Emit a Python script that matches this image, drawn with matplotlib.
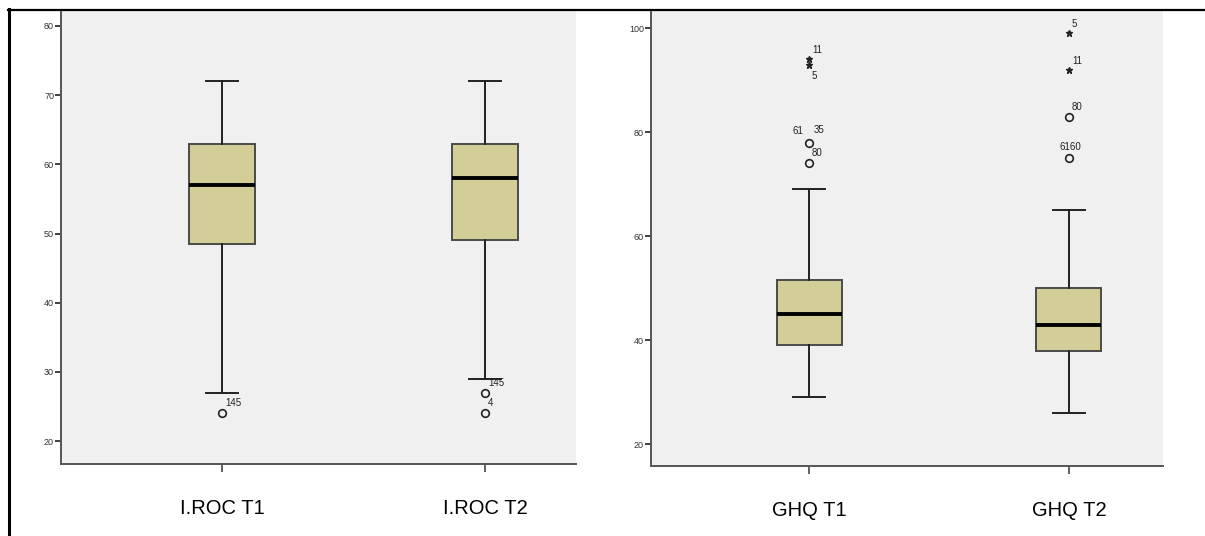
import numpy as np
import matplotlib.pyplot as plt
from matplotlib.lines import Line2D

plt.rcParams['font.family'] = ['Liberation Sans', 'DejaVu Sans']

# I.ROC panel
roc_cats = ["I.ROC T1", "I.ROC T2"]
roc_q1 = [48.5, 49]
roc_med = [57, 58]
roc_q3 = [63, 63]
roc_lo = [27, 29]
roc_hi = [72, 72]
roc_circ = [[24], [27, 24]]
roc_circ_lbl = [["145"], ["145", "4"]]
roc_star = [[], []]
roc_star_lbl = [[], []]
roc_ticks = [20, 30, 40, 50, 60, 70, 80]

# GHQ panel
ghq_cats = ["GHQ T1", "GHQ T2"]
ghq_q1 = [39, 38]
ghq_med = [45, 43]
ghq_q3 = [51.5, 50]
ghq_lo = [29, 26]
ghq_hi = [69, 65]
ghq_circ = [[78, 74], [83, 75]]
ghq_circ_lbl = [["61 35", "80"], ["80", "6160"]]
ghq_star = [[94, 93], [99, 92]]
ghq_star_lbl = [["11", "5"], ["5", "11"]]
ghq_ticks = [20, 40, 60, 80, 100]

W, H = 1205, 536
BOXC = '#d3ce98'
EDGE = '#4a4a4a'
BG = '#f0f0f0'

fig = plt.figure(figsize=(W / 100, H / 100), dpi=100)

# frame lines of the source table
fig.add_artist(Line2D([8 / W, 1], [1 - 9.5 / H, 1 - 9.5 / H], color='black', lw=1.6))
fig.add_artist(Line2D([9 / W, 9 / W], [0, 1 - 9 / H], color='black', lw=2.2))


def panel(rect, cats, q1, med, q3, lo, hi, circ, circ_lbl, star, star_lbl,
          ticks, ylim, xlim):
    x0, x1, ytop, ybot = rect
    ax = fig.add_axes([x0 / W, 1 - ybot / H, (x1 - x0) / W, (ybot - ytop) / H])
    ax.set_facecolor(BG)
    stats = []
    for i in range(len(cats)):
        stats.append(dict(q1=q1[i], med=med[i], q3=q3[i], whislo=lo[i],
                          whishi=hi[i], fliers=[], label=cats[i]))
    pos = np.arange(len(cats))
    ax.bxp(stats, positions=pos, widths=0.25, patch_artist=True,
           showfliers=False,
           boxprops=dict(facecolor=BOXC, edgecolor=EDGE, lw=1.4),
           medianprops=dict(color='black', lw=2.8),
           whiskerprops=dict(color='#222222', lw=1.4),
           capprops=dict(color='#222222', lw=1.4),
           capwidths=0.125, zorder=3)
    fs = 7
    for i in range(len(cats)):
        for v, lab in zip(circ[i], circ_lbl[i]):
            ax.plot(pos[i], v, 'o', mfc='none', mec='#222222', mew=1.2, ms=5.5, zorder=4)
            if lab == "61 35":
                ax.annotate("61", (pos[i], v), xytext=(-6, 7), textcoords='offset pixels',
                            fontsize=fs, ha='right', va='bottom', color='#222222')
                ax.annotate("35", (pos[i], v), xytext=(5, 8), textcoords='offset pixels',
                            fontsize=fs, ha='left', va='bottom', color='#222222')
            elif lab == "6160":
                ax.annotate(lab, (pos[i], v), xytext=(-9, 6), textcoords='offset pixels',
                            fontsize=fs, ha='left', va='bottom', color='#222222')
            else:
                ax.annotate(lab, (pos[i], v), xytext=(3, 5), textcoords='offset pixels',
                            fontsize=fs, ha='left', va='bottom', color='#222222')
        for j, (v, lab) in enumerate(zip(star[i], star_lbl[i])):
            ax.plot(pos[i], v, '*', color='#222222', ms=4.5, zorder=4)
            below = i == 0 and j == 1
            ax.annotate(lab, (pos[i], v), xytext=(3, -6 if below else 4),
                        textcoords='offset pixels', fontsize=fs, ha='left',
                        va='top' if below else 'bottom', color='#222222')
    ax.set_ylim(*ylim)
    ax.set_xlim(*xlim)
    ax.set_yticks(ticks)
    ax.set_yticklabels([str(t) for t in ticks])
    ax.set_xticks(pos)
    ax.set_xticklabels(cats)
    for s in ['top', 'right']:
        ax.spines[s].set_visible(False)
    for s in ['left', 'bottom']:
        ax.spines[s].set_color('#555555')
        ax.spines[s].set_linewidth(1.4)
    ax.tick_params(axis='y', length=4, width=1.3, color='#333333',
                   labelsize=6.5, labelcolor='#333333', pad=1)
    ax.tick_params(axis='x', length=5.5, width=1.3, color='#555555',
                   labelsize=14.5, labelcolor='black', pad=20)
    return ax


panel((61, 576, 10, 464), roc_cats, roc_q1, roc_med, roc_q3, roc_lo, roc_hi,
      roc_circ, roc_circ_lbl, roc_star, roc_star_lbl, roc_ticks,
      (16.7, 82.3), (-0.612, 1.346))
panel((651, 1163, 10, 466), ghq_cats, ghq_q1, ghq_med, ghq_q3, ghq_lo, ghq_hi,
      ghq_circ, ghq_circ_lbl, ghq_star, ghq_star_lbl, ghq_ticks,
      (15.8, 103.5), (-0.608, 1.362))

fig.savefig('out.png', dpi=100)
